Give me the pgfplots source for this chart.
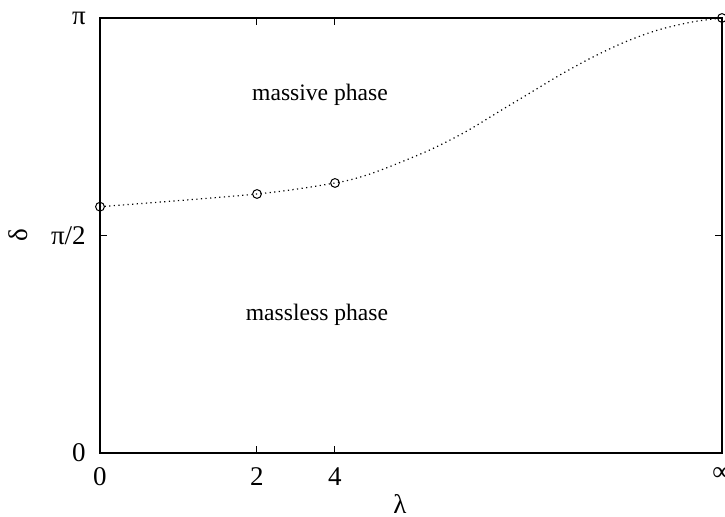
\documentclass[border=0pt]{standalone}
\usepackage{fontspec}
\setmainfont{Liberation Serif}
\usepackage{pgfplots}
\pgfplotsset{compat=1.18}
\begin{document}
\fontsize{11.8}{14}\selectfont
\begin{tikzpicture}
\begin{axis}[
  scale only axis,
  width=311pt, height=217.5pt,
  xmin=0, xmax=622, ymin=0, ymax=1,
  axis line style={line width=0.6pt},
  tick style={line width=0.5pt, black},
  major tick length=3.5pt,
  tick align=inside,
  xtick={0,157,235,622},
  xticklabels={0,2,4,\makebox[0pt]{∞}},
  ytick={0,0.5,1},
  yticklabels={0,π/2,π},
  /pgf/number format/assume math mode=true,
  ticklabel style={font=\fontsize{13.5}{16}\selectfont},
  xticklabel style={yshift=-3pt},
  yticklabel style={xshift=-3pt},
  clip=false,
]
\coordinate (sw) at (rel axis cs:0,0);
\coordinate (ne) at (rel axis cs:1,1);
\addplot[black, line width=0.6pt, dash pattern=on 0.6pt off 1.7pt, smooth] coordinates {
(0,0.5662) (157,0.5954) (235,0.6207) (267,0.6391) (300,0.6678) (333,0.7000)
(367,0.7402) (400,0.7862) (430,0.8276) (460,0.8690) (492,0.9092) (525,0.9448)
(558,0.9724) (592,0.9908) (622,1.0)
};
\addplot[only marks, mark=o, mark size=2.2pt, mark options={line width=0.5pt, black}] coordinates {
(0,0.5662) (157,0.5954) (235,0.6207) (622,1.0)
};
\node at (axis cs:220,0.823) {massive phase};
\node at (axis cs:217,0.317) {massless phase};
\node[font=\fontsize{13.5}{16}\selectfont, inner sep=0pt] at ([yshift=-25.5pt]rel axis cs:0.482,0) {λ};
\node[font=\fontsize{13.5}{16}\selectfont, rotate=90] at ([xshift=-41pt]rel axis cs:0,0.5) {δ};
\end{axis}
\pgfresetboundingbox
\path ([shift={(-50pt,-32pt)}]sw) rectangle ([shift={(1.5pt,9pt)}]ne);
\end{tikzpicture}
\end{document}
